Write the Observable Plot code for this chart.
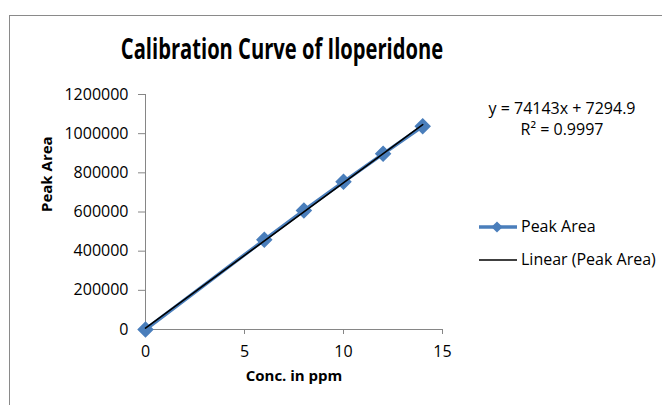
<!DOCTYPE html>
<html>
<head>
<meta charset="utf-8">
<script src="https://cdn.jsdelivr.net/npm/d3@7"></script>
<script src="https://cdn.jsdelivr.net/npm/@observablehq/plot@0.6"></script>
<style>
  html, body { margin: 0; padding: 0; background: #fff; }
  #wrap { position: relative; width: 662px; height: 405px; overflow: hidden; font-family: "Open Sans", sans-serif; color: #000; }
  #frame { position: absolute; left: 9px; top: 15px; width: 700px; height: 450px; border-top: 1px solid #8a8a8a; border-left: 1px solid #8a8a8a; }
  #title { position: absolute; left: 32px; width: 500px; top: 29px; text-align: center; font-weight: bold; font-size: 28px; transform: scaleX(0.72); transform-origin: 50% 50%; white-space: nowrap; }
  .eq { position: absolute; font-size: 16px; text-align: center; width: 200px; left: 462px; }
  .leg { position: absolute; font-size: 16px; left: 521px; }
  #chart { position: absolute; left: 0; top: 0; }
</style>
</head>
<body>
<div id="wrap">
  <div id="frame"></div>
  <div id="chart"></div>
  <div id="title">Calibration Curve of Iloperidone</div>
  <div class="eq" style="top:97px;">y = 74143x + 7294.9</div>
  <div class="eq" style="top:118px;">R² = 0.9997</div>
  <div class="leg" style="top:215px;">Peak Area</div>
  <div class="leg" style="top:248px;">Linear (Peak Area)</div>
</div>
<script>
const conc = [0, 6, 8, 10, 12, 14];
const area = [0, 458000, 608000, 754000, 897000, 1038000];
const xTicks = [0, 5, 10, 15];
const yTicks = [0, 200000, 400000, 600000, 800000, 1000000, 1200000];
const seriesName = "Peak Area";
const trendName = "Linear (Peak Area)";

const data = conc.map((c, i) => ({c, a: area[i]}));
const blue = "#4a7ebb";
const axisGray = "#868686";

const chart = Plot.plot({
  width: 662,
  height: 405,
  marginLeft: 145,
  marginRight: 220,
  marginTop: 94,
  marginBottom: 76,
  style: {fontFamily: "'Open Sans', sans-serif", fontSize: "16px", color: "#000", background: "transparent", overflow: "visible"},
  x: {domain: [0, 15]},
  y: {domain: [0, 1200000]},
  marks: [
    Plot.ruleY([0], {stroke: axisGray, strokeWidth: 1}),
    Plot.ruleX([0], {stroke: axisGray, strokeWidth: 1}),
    Plot.axisX({ticks: xTicks, tickSize: 5, tickPadding: 11, stroke: axisGray, fill: "#000", label: null, fontSize: 16}),
    Plot.axisY({ticks: yTicks, tickSize: 7, tickPadding: 10, stroke: axisGray, fill: "#000", label: null, tickFormat: d3.format("d"), fontSize: 16}),
    Plot.text(["Conc. in ppm"], {frameAnchor: "bottom", dy: 51, fontWeight: "bold", fontSize: 15}),
    Plot.text(["Peak Area"], {frameAnchor: "left", dx: -98, rotate: -90, fontWeight: "bold", fontSize: 15}),
    Plot.line(data, {x: "c", y: "a", stroke: blue, strokeWidth: 3.5}),
    Plot.dot(data, {x: "c", y: "a", symbol: "diamond2", r: 6.5, fill: blue, stroke: blue}),
    Plot.linearRegressionY(data, {x: "c", y: "a", stroke: "#000", strokeWidth: 1.6, ci: 0})
  ]
});
document.getElementById("chart").appendChild(chart);

// legend
const svg = d3.select(chart);
const lg = svg.append("g");
lg.append("line").attr("x1", 479).attr("x2", 517).attr("y1", 227).attr("y2", 227).attr("stroke", blue).attr("stroke-width", 3.5);
lg.append("path").attr("d", d3.symbol(d3.symbolDiamond2, 80)()).attr("transform", "translate(497,227)").attr("fill", blue);
lg.append("line").attr("x1", 479).attr("x2", 517).attr("y1", 260).attr("y2", 260).attr("stroke", "#000").attr("stroke-width", 1.6);
</script>
</body>
</html>
